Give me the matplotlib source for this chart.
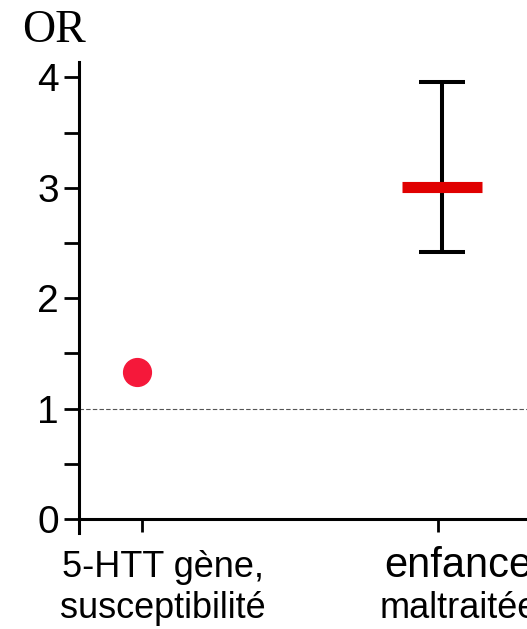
import matplotlib
matplotlib.use("Agg")
import matplotlib.pyplot as plt
from matplotlib.ticker import MultipleLocator
from matplotlib.transforms import ScaledTranslation

plt.rcParams['font.family'] = ['Liberation Sans', 'DejaVu Sans']

# ---- data ----
categories_line1 = ["5-HTT gène,", "enfance"]
categories_line2 = ["susceptibilité", "maltraitée"]
dot_or = [1.33]          # category 0: point estimate
bar_or = [3.01]          # category 1: point estimate
bar_ci_low = [2.42]
bar_ci_high = [3.96]
y_ticks = [0, 1, 2, 3, 4]
ref_line = 1.0

W, H = 527, 629
fig = plt.figure(figsize=(W / 100, H / 100), dpi=100)
left = 79 / W
bottom = (H - 533) / H
top = (H - 62) / H
ax = fig.add_axes([left, bottom, 1.4 - left, top - bottom])

x_px_per_unit = 296
x0 = -(142 - 79) / x_px_per_unit
x1 = x0 + (1.4 - left) * W / x_px_per_unit
ax.set_xlim(x0, x1)
ax.set_ylim(-0.127, 4.14)

# reference line
ax.axhline(ref_line, color='#555555', lw=0.8, ls=(0, (4, 2)), zorder=1)

# dot for category 0 (drawn slightly left of its tick, as in the original)
dot_tr = ax.transData + ScaledTranslation(-5 / 100, 0, fig.dpi_scale_trans)
ax.plot([0], dot_or, 'o', color='#f5183a', markersize=20, zorder=3, transform=dot_tr)

# error bar for category 1 (slightly right of its tick)
bar_tr = ax.transData + ScaledTranslation(4 / 100, 0, fig.dpi_scale_trans)
yerr = [[bar_or[0] - bar_ci_low[0]], [bar_ci_high[0] - bar_or[0]]]
eb = ax.errorbar([1], bar_or, yerr=yerr, fmt='none', ecolor='black',
                 elinewidth=2.9, capsize=16.5, capthick=2.9, zorder=2)
for art in eb.lines[1] + eb.lines[2]:
    art.set_transform(bar_tr)
ax.plot([1], bar_or, marker='_', color='#e00000', markersize=58,
        markeredgewidth=8, zorder=3, transform=bar_tr)

# spines
for s in ['top', 'right']:
    ax.spines[s].set_visible(False)
ax.spines['left'].set_linewidth(2.2)
ax.spines['bottom'].set_linewidth(2.2)
ax.spines['bottom'].set_position(('data', 0))

ax.yaxis.set_minor_locator(MultipleLocator(0.5))
ax.set_yticks(y_ticks)
ax.set_yticklabels([str(t) for t in y_ticks], fontsize=28)
ax.tick_params(axis='y', which='both', length=10.5, width=2, direction='out', pad=4)
ax.set_xticks(range(len(categories_line1)))
ax.set_xticklabels([])
ax.tick_params(axis='x', length=9.5, width=2, direction='out')

# category labels
line1_sizes = [26, 30]
line2_sizes = [26, 26]
for i, (l1, l2) in enumerate(zip(categories_line1, categories_line2)):
    xt = i + 0.07
    ax.annotate(l1, xy=(xt, (H - 577) / H), xycoords=('data', 'figure fraction'),
                ha='center', va='baseline', fontsize=line1_sizes[i], annotation_clip=False)
    ax.annotate(l2, xy=(xt, (H - 618) / H), xycoords=('data', 'figure fraction'),
                ha='center', va='baseline', fontsize=line2_sizes[i], annotation_clip=False)

fig.text(22 / W, (H - 42) / H, 'OR', family='Liberation Serif', fontsize=33,
         ha='left', va='baseline')

fig.savefig('out.png', dpi=100)
